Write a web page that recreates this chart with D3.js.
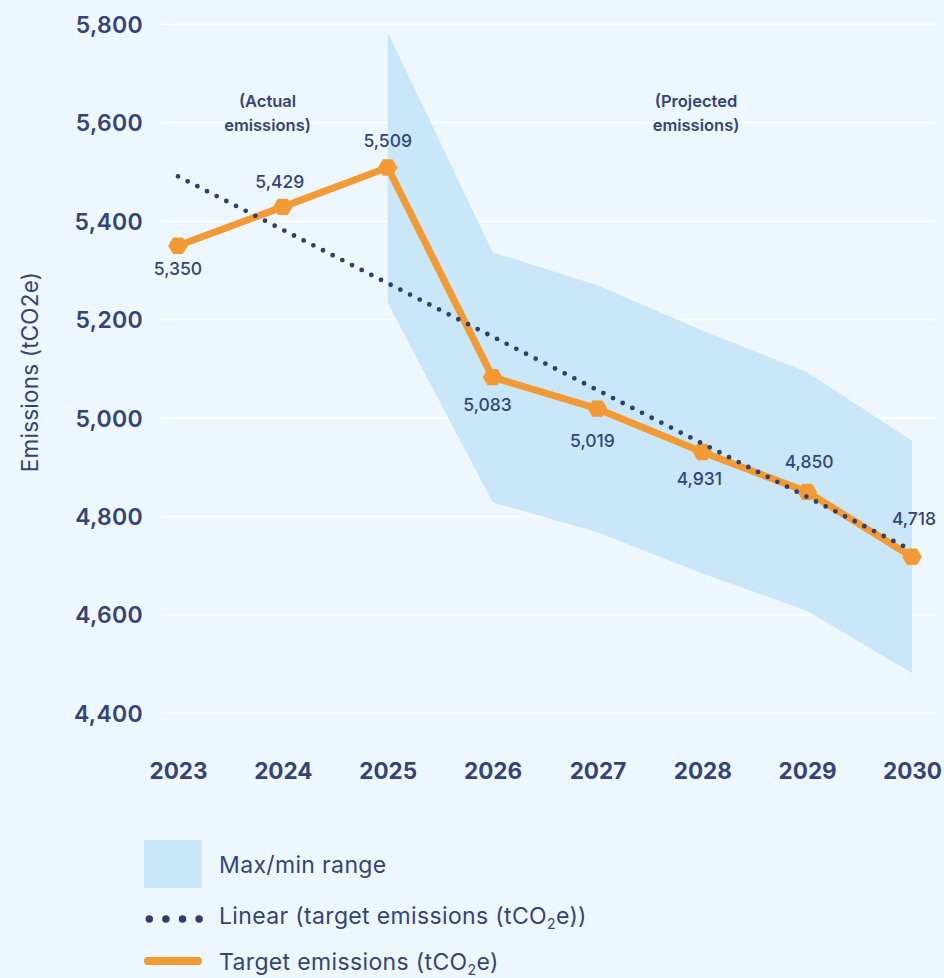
<!DOCTYPE html>
<html>
<head>
<meta charset="utf-8">
<script src="https://cdn.jsdelivr.net/npm/d3@7"></script>
<style>
  html, body { margin: 0; padding: 0; background: #eff7fe; }
  svg { display: block; }
  text { font-family: Inter, "Noto Sans", sans-serif; fill: #34447a; }
</style>
</head>
<body>
<svg id="chart" width="944" height="978"></svg>
<script>
// ---- data ----
const years = [2023, 2024, 2025, 2026, 2027, 2028, 2029, 2030];
const targetEmissions = [5350, 5429, 5509, 5083, 5019, 4931, 4850, 4718];
const rangeYears = [2025, 2026, 2027, 2028, 2029, 2030];
const rangeMax = [5784, 5337, 5270, 5178, 5093, 4954];
const rangeMin = [5234, 4829, 4768, 4684, 4608, 4482];
const trendYears = [2023, 2030];
const trendValues = [5491, 4731];
const yTicks = [4400, 4600, 4800, 5000, 5200, 5400, 5600, 5800];
const dataLabels = ["5,350", "5,429", "5,509", "5,083", "5,019", "4,931", "4,850", "4,718"];

// label placement (layout)
const labelDx = [0, -3, 0, -5, -5, -3, 2, 2];
const labelDy = [23, -25, -27, 28, 32, 27, -30, -38];

const W = 944, H = 978;
const svg = d3.select("#chart");
const navy = "#34447a";
const orange = "#f29a35";
const bandFill = "#c9e7f8";

svg.append("rect").attr("width", W).attr("height", H).attr("fill", "#eff7fe");

const x = d3.scalePoint().domain(years).range([178, 912]);
const y = d3.scaleLinear().domain([4400, 5800]).range([713.3, 24.3]);
const gridX0 = 161, gridX1 = 936;

// gridlines
svg.append("g").selectAll("line").data(yTicks).join("line")
  .attr("x1", gridX0).attr("x2", gridX1)
  .attr("y1", d => y(d)).attr("y2", d => y(d))
  .attr("stroke", "#ffffff").attr("stroke-width", 1.5);

// y tick labels
const yAxis = d3.axisLeft(y).tickValues(yTicks).tickFormat(d3.format(",")).tickSize(0).tickPadding(0);
const gy = svg.append("g").attr("transform", "translate(143,0)").call(yAxis);
gy.select(".domain").remove();
gy.selectAll("text").attr("font-size", 23).attr("font-weight", 600)
  .style("font-family", "Inter, sans-serif").style("letter-spacing", "0.3px")
  .attr("fill", navy).attr("dy", "0.35em").attr("x", 0);

// x tick labels
const xAxis = d3.axisBottom(x).tickSize(0).tickPadding(0).tickFormat(d3.format("d"));
const gx = svg.append("g").attr("transform", "translate(0,771)").call(xAxis);
gx.select(".domain").remove();
gx.selectAll("text").attr("font-size", 22.5).attr("font-weight", 650)
  .style("font-family", "Inter, sans-serif").attr("fill", navy).attr("dy", "0.35em").attr("y", 0);

// band
const bandData = rangeYears.map((yr, i) => ({ yr, hi: rangeMax[i], lo: rangeMin[i] }));
const area = d3.area().x(d => x(d.yr)).y0(d => y(d.lo)).y1(d => y(d.hi));
svg.append("path").datum(bandData).attr("d", area).attr("fill", bandFill);

// target line
const pts = years.map((yr, i) => ({ yr, v: targetEmissions[i], i }));
const line = d3.line().x(d => x(d.yr)).y(d => y(d.v));
svg.append("path").datum(pts).attr("d", line)
  .attr("fill", "none").attr("stroke", orange).attr("stroke-width", 7)
  .attr("stroke-linejoin", "round");

// markers (hexagon-like)
const hexa = d3.range(6).map(k => {
  const a = k * Math.PI / 3;
  return [Math.cos(a) * 9, Math.sin(a) * 8.6];
});
svg.append("g").selectAll("path").data(pts).join("path")
  .attr("transform", d => `translate(${x(d.yr)},${y(d.v)})`)
  .attr("d", d3.line()(hexa) + "Z")
  .attr("fill", orange).attr("stroke", orange).attr("stroke-width", 1.5)
  .attr("stroke-linejoin", "round");

// trend line (dotted)
const trendPts = trendYears.map((yr, i) => ({ yr, v: trendValues[i] }));
svg.append("path").datum(trendPts).attr("d", line)
  .attr("fill", "none").attr("stroke", "#2f3e6e").attr("stroke-width", 4.8)
  .attr("stroke-linecap", "round").attr("stroke-dasharray", "0 10.85");

// data labels
svg.append("g").selectAll("text").data(pts).join("text")
  .attr("x", d => x(d.yr) + labelDx[d.i])
  .attr("y", d => y(d.v) + labelDy[d.i])
  .attr("dy", "0.35em")
  .attr("text-anchor", "middle")
  .attr("font-size", 17.5).attr("font-weight", 500)
  .text(d => dataLabels[d.i]);

// annotations
function twoLine(cx, l1, l2) {
  const t = svg.append("text").attr("text-anchor", "middle")
    .attr("font-size", 16.5).attr("font-weight", 600);
  t.append("tspan").attr("x", cx).attr("y", 101).attr("dy", "0.35em").text(l1);
  t.append("tspan").attr("x", cx).attr("y", 125).attr("dy", "0.35em").text(l2);
}
twoLine(267.5, "(Actual", "emissions)");
twoLine(696, "(Projected", "emissions)");

// y axis title
svg.append("text")
  .attr("transform", "translate(30,372) rotate(-90)")
  .attr("text-anchor", "middle").attr("dy", "0.35em")
  .attr("font-size", 22.5).attr("font-weight", 400).attr("fill", "#3e4d80")
  .style("letter-spacing", "0.2px")
  .text("Emissions (tCO2e)");

// legend
const lg = svg.append("g");
lg.append("rect").attr("x", 144).attr("y", 840).attr("width", 58).attr("height", 48).attr("fill", bandFill);
lg.append("line").attr("x1", 149.3).attr("x2", 199.5).attr("y1", 919).attr("y2", 919)
  .attr("stroke", "#2f3e6e").attr("stroke-width", 7.5).attr("stroke-linecap", "round")
  .attr("stroke-dasharray", "0 16.6");
lg.append("line").attr("x1", 148).attr("x2", 198).attr("y1", 961).attr("y2", 961)
  .attr("stroke", orange).attr("stroke-width", 8).attr("stroke-linecap", "round");

const legFS = 23;
const legStyle = sel => sel.attr("font-size", legFS).style("letter-spacing", "0.35px");
legStyle(lg.append("text").attr("x", 219).attr("y", 865).attr("dy", "0.35em")).text("Max/min range");

const t2 = legStyle(lg.append("text").attr("x", 219).attr("y", 916).attr("dy", "0.35em"));
t2.append("tspan").text("Linear (target emissions (tCO");
t2.append("tspan").attr("font-size", 14).attr("dy", 5).text("2");
t2.append("tspan").attr("dy", -5).text("e))");

const t3 = legStyle(lg.append("text").attr("x", 219).attr("y", 962).attr("dy", "0.35em"));
t3.append("tspan").text("Target emissions (tCO");
t3.append("tspan").attr("font-size", 14).attr("dy", 5).text("2");
t3.append("tspan").attr("dy", -5).text("e)");
</script>
</body>
</html>
